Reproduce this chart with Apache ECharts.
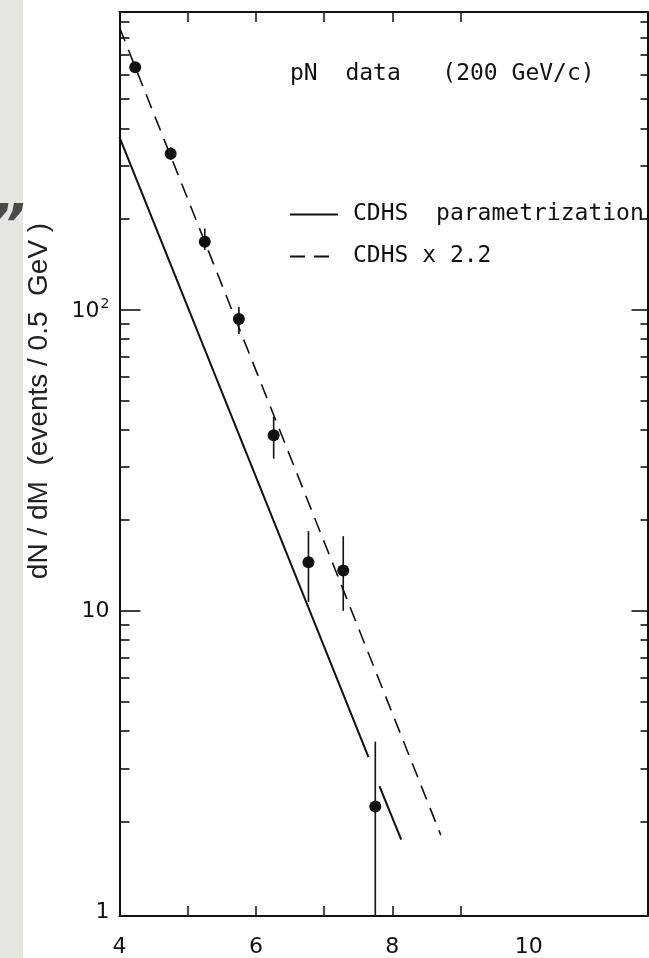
<!DOCTYPE html>
<html>
<head>
<meta charset="utf-8">
<script src="https://cdn.jsdelivr.net/npm/echarts@6/dist/echarts.min.js"></script>
<style>
  html, body { margin: 0; padding: 0; background: #ffffff; }
  #chart { width: 649px; height: 958px; }
</style>
</head>
<body>
<div id="chart"></div>
<script>
// Dimuon mass spectrum, pN at 200 GeV/c: events per 0.5 GeV bin
const massBins = [4.23, 4.75, 5.25, 5.75, 6.26, 6.77, 7.28, 7.75];
const events   = [638, 329, 168, 93, 38.3, 14.5, 13.6, 2.24];
const errLow   = [615, 314, 158, 83, 32, 10.7, 10.0, 0.97];
const errHigh  = [662, 346, 186, 102, 44, 18.4, 17.7, 3.68];

// CDHS parametrization (solid, drawn in two pieces around the last bin)
const cdhsMassA = [4.0, 7.65];
const cdhsA     = [374, 3.27];
const cdhsMassB = [7.81, 8.13];
const cdhsB     = [2.62, 1.74];

// CDHS x 2.2 (dashed)
const scaledMass = [4.0, 8.71];
const scaled     = [865, 1.80];

// axis ranges and ticks
const xRange = [4, 11.74];
const yRange = [0.97, 973];
const xLabelValues = [4, 6, 8, 10];
const xTickValues = [5, 6, 7, 8, 9];
const yLabelValues = [1, 10, 100];
const yMajorTicks = [10, 100];
const yMinorTicks = [2, 3, 4, 5, 6, 7, 8, 9, 20, 30, 40, 50, 60, 70, 80, 90,
                     200, 300, 400, 500, 600, 700, 800, 900];

const lg = Math.log10;
const ink = '#111111';
const FONT = 'DejaVu Sans';
const LETTERING = 'DejaVu Sans Mono';

const pairs = (xs, ys) => xs.map((x, i) => [x, lg(ys[i])]);

const xBase = {
  type: 'value', min: xRange[0], max: xRange[1], splitLine: { show: false },
  axisLine: { show: true, onZero: false, lineStyle: { color: ink, width: 2 } },
  axisTick: { show: true, inside: true, length: 10, customValues: xTickValues,
              lineStyle: { color: ink, width: 1.5 } }
};

function yAxisDef(position, ticks, len, showLine, showLabels) {
  return {
    type: 'value', position: position, min: lg(yRange[0]), max: lg(yRange[1]),
    splitLine: { show: false },
    axisLine: { show: showLine, onZero: false, lineStyle: { color: ink, width: 2 } },
    axisTick: { show: true, inside: true, length: len, customValues: ticks.map(lg),
                lineStyle: { color: ink, width: 1.6 } },
    axisLabel: showLabels ? {
      show: true, margin: 10, customValues: yLabelValues.map(lg),
      fontFamily: FONT, fontSize: 22, color: ink,
      formatter: function (v) {
        const n = Math.round(Math.pow(10, v));
        return n === 100 ? '{n|10}{s|2}' : '{n|' + n + '}';
      },
      rich: {
        n: { fontFamily: FONT, fontSize: 22, color: ink, verticalAlign: 'bottom' },
        s: { fontFamily: FONT, fontSize: 14, color: ink, verticalAlign: 'bottom', padding: [0, 0, 11, 1] }
      }
    } : { show: false }
  };
}

const chart = echarts.init(document.getElementById('chart'), null, { renderer: 'canvas' });

chart.setOption({
  animation: false,
  backgroundColor: '#ffffff',
  grid: { left: 119.5, right: 1.5, top: 12, bottom: 40, containLabel: false },
  title: {
    text: 'pN  data   (200 GeV/c)',
    left: 290, top: 63, padding: 0,
    textStyle: { fontFamily: LETTERING, fontSize: 23, fontWeight: 'normal', color: ink }
  },
  legend: {
    data: ['CDHS  parametrization', 'CDHS x 2.2'],
    orient: 'vertical', left: 289, top: 203, padding: 0,
    itemWidth: 48, itemHeight: 14, itemGap: 19,
    itemStyle: { opacity: 0 },
    textStyle: { fontFamily: LETTERING, fontSize: 23, color: ink, padding: [0, 0, 0, 10] }
  },
  graphic: [
    { type: 'rect', left: 0, top: 0, z: -10, silent: true,
      shape: { width: 23, height: 958 }, style: { fill: '#e7e5e1' } },
    { type: 'text', left: -11, top: 200, z: -5, silent: true,
      style: { text: '\u201D', fontFamily: FONT, fontSize: 56, fontStyle: 'italic',
               fontWeight: 'bold', fill: '#4a4a4a' } }
  ],
  xAxis: [
    Object.assign({}, xBase, {
      position: 'bottom',
      axisLabel: { show: true, margin: 20, customValues: xLabelValues,
                   fontFamily: FONT, fontSize: 22, color: ink }
    }),
    Object.assign({}, xBase, { position: 'top', axisLabel: { show: false } })
  ],
  yAxis: [
    Object.assign(yAxisDef('left', yMajorTicks, 21, true, true), {
      name: 'dN / dM  (events / 0.5  GeV )',
      nameLocation: 'middle', nameRotate: 90, nameGap: 66,
      nameTextStyle: { fontFamily: 'Liberation Sans', fontSize: 28, color: '#222222',
                       padding: [0, 0, 0, 126] }
    }),
    yAxisDef('left', yMinorTicks, 10, false, false),
    yAxisDef('right', yMajorTicks, 16, true, false),
    yAxisDef('right', yMinorTicks, 7, false, false)
  ],
  series: [
    {
      name: 'CDHS  parametrization', type: 'line', xAxisIndex: 0, yAxisIndex: 0,
      data: pairs(cdhsMassA, cdhsA), symbol: 'none', silent: true,
      lineStyle: { color: ink, width: 2, type: 'solid' }, itemStyle: { color: ink }
    },
    {
      name: 'CDHS  parametrization', type: 'line', xAxisIndex: 0, yAxisIndex: 0,
      data: pairs(cdhsMassB, cdhsB), symbol: 'none', silent: true,
      lineStyle: { color: ink, width: 2, type: 'solid' }, itemStyle: { color: ink }
    },
    {
      name: 'CDHS x 2.2', type: 'line', xAxisIndex: 0, yAxisIndex: 0,
      data: pairs(scaledMass, scaled), symbol: 'none', silent: true,
      lineStyle: { color: ink, width: 1.6, type: [15, 9] }, itemStyle: { color: ink }
    },
    {
      name: 'errors', type: 'custom', xAxisIndex: 0, yAxisIndex: 0, silent: true,
      data: massBins.map((m, i) => [m, lg(errLow[i]), lg(errHigh[i])]),
      encode: { x: 0, y: [1, 2] },
      renderItem: function (params, api) {
        const lo = api.coord([api.value(0), api.value(1)]);
        const hi = api.coord([api.value(0), api.value(2)]);
        return {
          type: 'line',
          shape: { x1: lo[0], y1: lo[1], x2: hi[0], y2: hi[1] },
          style: { stroke: ink, lineWidth: 1.6 }
        };
      },
      z: 3
    },
    {
      name: 'pN data', type: 'scatter', xAxisIndex: 0, yAxisIndex: 0,
      data: pairs(massBins, events), symbol: 'circle', symbolSize: 12,
      itemStyle: { color: ink, opacity: 1 }, z: 5
    }
  ]
});
</script>
</body>
</html>
